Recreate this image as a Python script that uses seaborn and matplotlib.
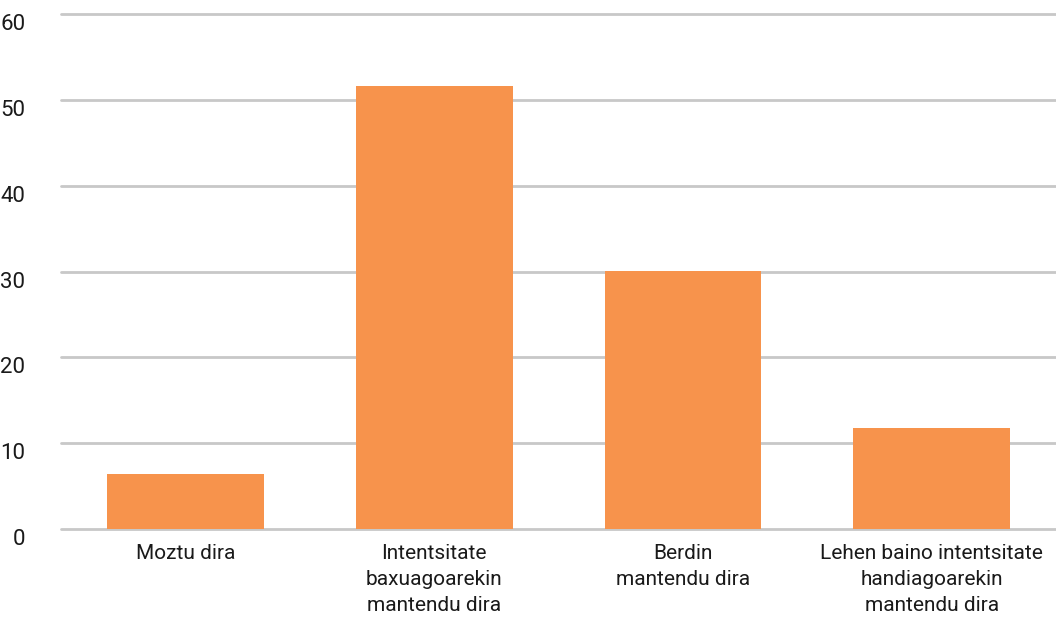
import matplotlib
matplotlib.use("Agg")
import matplotlib.pyplot as plt
import matplotlib.transforms as mtransforms
import seaborn as sns
import pandas as pd

categories = [
    "Moztu dira",
    "Intentsitate\nbaxuagoarekin\nmantendu dira",
    "Berdin\nmantendu dira",
    "Lehen baino intentsitate\nhandiagoarekin\nmantendu dira",
]
values = [6.4, 51.6, 30.1, 11.8]
yticks = [0, 10, 20, 30, 40, 50, 60]

df = pd.DataFrame({"cat": categories, "val": values})

sns.set_style("white")
plt.rcParams["font.family"] = ["Roboto", "DejaVu Sans"]

fig = plt.figure(figsize=(10.56, 6.37), dpi=100)
ax = fig.add_axes([0.058, 0.1695, 0.942, 0.8085])

sns.barplot(data=df, x="cat", y="val", color="#F7934C", saturation=1,
            width=0.63, linewidth=0, ax=ax, zorder=3)

ax.set_ylim(0, 60)
ax.set_xlim(-0.5, 3.5)
ax.set_yticks(yticks)
ax.yaxis.grid(True, color="#C8C8C8", linewidth=2, zorder=0)
ax.set_axisbelow(True)
for gl in ax.get_ygridlines():
    gl.set_clip_on(False)
for s in ax.spines.values():
    s.set_visible(False)
ax.set_xlabel("")
ax.set_ylabel("")
ax.tick_params(axis="y", length=0, pad=26, labelsize=16, labelcolor="#1a1a1a")
ax.tick_params(axis="x", length=0, pad=11, labelsize=15, labelcolor="#1a1a1a")

for lab in ax.get_xticklabels():
    lab.set_linespacing(1.45)

off = mtransforms.ScaledTranslation(0, -8 / 100, fig.dpi_scale_trans)
for lab in ax.get_yticklabels():
    lab.set_transform(lab.get_transform() + off)

fig.savefig("out.png", dpi=100)
